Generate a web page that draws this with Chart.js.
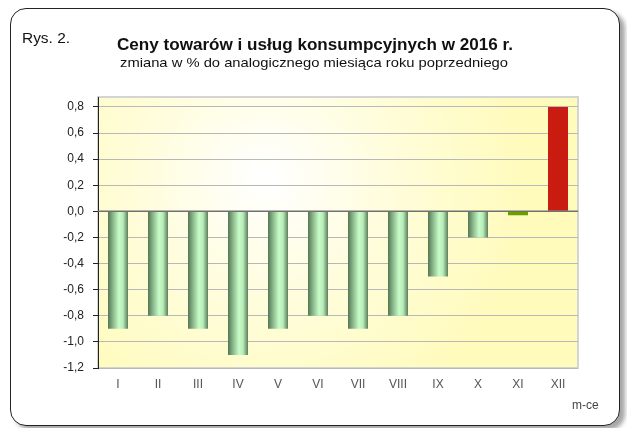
<!DOCTYPE html>
<html>
<head>
<meta charset="utf-8">
<script src="https://cdn.jsdelivr.net/npm/chart.js@4"></script>
<style>
  html, body { margin: 0; padding: 0; background: #fff; }
  #wrap { position: relative; width: 627px; height: 428px; overflow: hidden; }
  #frame {
    position: absolute; left: 10px; top: 8px; width: 608px; height: 416px;
    border: 1.5px solid #222; border-radius: 16px;
    box-shadow: 5px 4px 4px rgba(0,0,0,0.35);
    background: #fff;
  }
  #c { position: absolute; left: 0; top: 0; }
</style>
</head>
<body>
<div id="wrap">
  <div id="frame"></div>
  <canvas id="c" width="627" height="428"></canvas>
</div>
<script>
// data
const months = ['I', 'II', 'III', 'IV', 'V', 'VI', 'VII', 'VIII', 'IX', 'X', 'XI', 'XII'];
const changePct = [-0.9, -0.8, -0.9, -1.1, -0.9, -0.8, -0.9, -0.8, -0.5, -0.2, -0.03, 0.8];
const yTicks = [-1.2, -1.0, -0.8, -0.6, -0.4, -0.2, 0.0, 0.2, 0.4, 0.6, 0.8];

const FONT = "'Liberation Sans', Arial, sans-serif";

// draw text squeezed/stretched to a given width
const fitText = (ctx, text, x, y, width) => {
    const w = ctx.measureText(text).width;
    ctx.save();
    ctx.translate(x, y);
    ctx.scale(width / w, 1);
    ctx.fillText(text, 0, 0);
    ctx.restore();
};

// cylinder-like gradient for the green bars
const barFill = (context) => {
    const chart = context.chart;
    const i = context.dataIndex;
    if (i === 10) return '#6a9f00';
    if (i === 11) return '#c91b10';
    const xs = chart.scales.x;
    if (!chart.chartArea || !xs) return '#9fd09f';
    const cx = xs.getPixelForValue(i);
    const half = (chart.chartArea.width / months.length) * 0.25;
    const g = chart.ctx.createLinearGradient(cx - half, 0, cx + half, 0);
    g.addColorStop(0, '#547654');
    g.addColorStop(0.25, '#8ab88a');
    g.addColorStop(0.55, '#c8fcc8');
    g.addColorStop(0.75, '#b8ecb8');
    g.addColorStop(1, '#5b7d5b');
    return g;
};

const decor = {
    id: 'decor',
    beforeDraw(chart) {
        const { ctx, chartArea: a } = chart;
        ctx.save();
        // plot background
        const g = ctx.createRadialGradient(a.left + a.width * 0.35, a.top + a.height * 0.3, 5,
                                           a.left + a.width * 0.35, a.top + a.height * 0.3, a.width * 0.55);
        g.addColorStop(0, '#ffffff');
        g.addColorStop(0.45, '#fffddc');
        g.addColorStop(1, '#fffbbb');
        ctx.fillStyle = g;
        ctx.fillRect(a.left, a.top, a.width, a.height);
        ctx.strokeStyle = '#d4d4d4';
        ctx.lineWidth = 2;
        ctx.strokeRect(a.left, a.top, a.width, a.height);
        ctx.restore();
    },
    afterDatasetsDraw(chart) {
        const { ctx, chartArea: a, scales } = chart;
        ctx.save();
        // zero line
        const y0 = scales.y.getPixelForValue(0);
        ctx.strokeStyle = '#707070';
        ctx.lineWidth = 1.5;
        ctx.beginPath();
        ctx.moveTo(a.left, y0);
        ctx.lineTo(a.right, y0);
        ctx.stroke();
        ctx.restore();
    },
    afterDraw(chart) {
        const { ctx } = chart;
        ctx.save();
        ctx.fillStyle = '#111';
        ctx.textBaseline = 'alphabetic';
        ctx.textAlign = 'left';
        ctx.font = `14px ${FONT}`;
        fitText(ctx, 'Rys. 2.', 22, 43, 48);
        ctx.font = `bold 16px ${FONT}`;
        fitText(ctx, 'Ceny towarów i usług konsumpcyjnych w 2016 r.', 117, 50, 396);
        ctx.font = `13px ${FONT}`;
        fitText(ctx, 'zmiana w % do analogicznego miesiąca roku poprzedniego', 120, 67, 388);
        ctx.fillStyle = '#444';
        ctx.font = `12px ${FONT}`;
        ctx.fillText('m-ce', 572, 409);
        ctx.restore();
    }
};

new Chart(document.getElementById('c'), {
    type: 'bar',
    data: {
        labels: months,
        datasets: [{
            data: changePct,
            backgroundColor: barFill,
            borderWidth: 0,
            barPercentage: 0.5,
            categoryPercentage: 1.0
        }]
    },
    options: {
        responsive: false,
        animation: false,
        devicePixelRatio: 1,
        layout: { padding: { left: 0, top: 97, right: 49, bottom: 0 } },
        plugins: { legend: { display: false }, tooltip: { enabled: false } },
        scales: {
            x: {
                grid: { display: false, drawTicks: false },
                border: { display: false },
                ticks: { color: '#555', font: { family: FONT, size: 12 }, padding: 9, maxRotation: 0 },
                afterFit: (s) => { s.height = 60; }
            },
            y: {
                min: -1.2,
                max: 0.876,
                afterBuildTicks: (s) => { s.ticks = yTicks.map(v => ({ value: v })); },
                grid: {
                    color: '#b8b8b8',
                    lineWidth: 1,
                    borderDash: [2, 2],
                    tickColor: '#222',
                    tickLength: 5,
                    tickBorderDash: []
                },
                border: { display: true, color: '#222', width: 1 },
                ticks: {
                    color: '#222',
                    font: { family: FONT, size: 12 },
                    padding: 9,
                    callback: (v) => v.toFixed(1).replace('.', ',')
                },
                afterFit: (s) => { s.width = 98; }
            }
        }
    },
    plugins: [decor]
});
</script>
</body>
</html>
